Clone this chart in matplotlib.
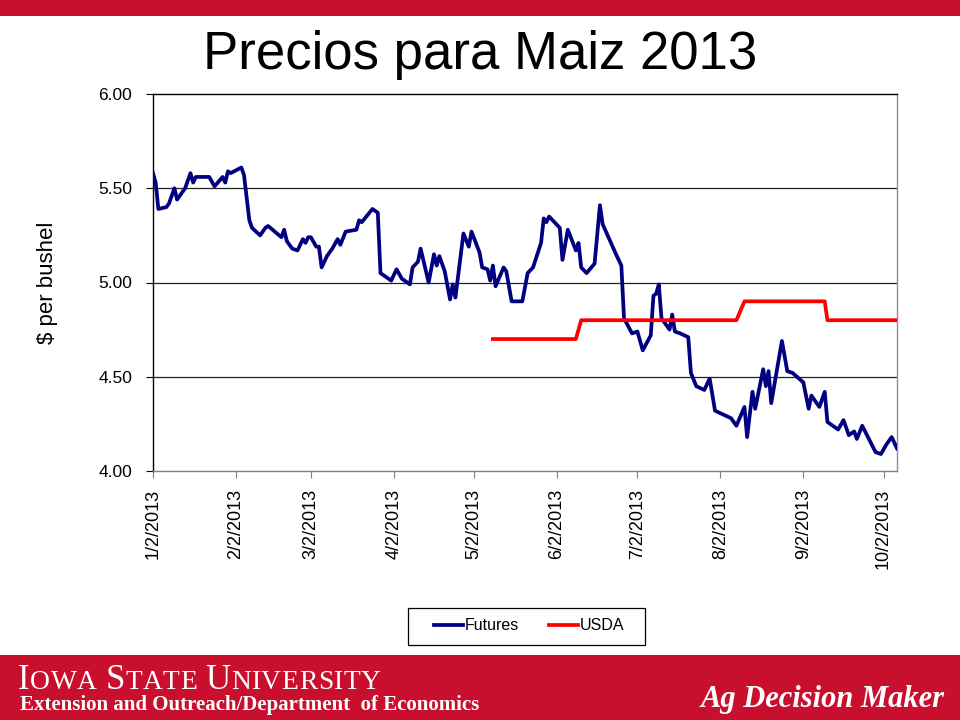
import matplotlib
matplotlib.use("Agg")
import matplotlib.pyplot as plt
from matplotlib.patches import Rectangle
import pandas as pd

plt.rcParams['font.family'] = ['Liberation Sans', 'DejaVu Sans']

title = "Precios para Maiz 2013"
y_label = "$ per bushel"

futures_dates = [
    "2013-01-02", "2013-01-03", "2013-01-04", "2013-01-07", "2013-01-08", "2013-01-10", "2013-01-11",
    "2013-01-14", "2013-01-16", "2013-01-17", "2013-01-18", "2013-01-23", "2013-01-25", "2013-01-28",
    "2013-01-29", "2013-01-30", "2013-01-31", "2013-02-04", "2013-02-05", "2013-02-07", "2013-02-08",
    "2013-02-11", "2013-02-13", "2013-02-14", "2013-02-19", "2013-02-20", "2013-02-21", "2013-02-23",
    "2013-02-25", "2013-02-27", "2013-02-28", "2013-03-01", "2013-03-02", "2013-03-04", "2013-03-05",
    "2013-03-06", "2013-03-08", "2013-03-10", "2013-03-12", "2013-03-13", "2013-03-15", "2013-03-19",
    "2013-03-20", "2013-03-21", "2013-03-25", "2013-03-27", "2013-03-28", "2013-04-01", "2013-04-03",
    "2013-04-05", "2013-04-08", "2013-04-09", "2013-04-11", "2013-04-12", "2013-04-13", "2013-04-15",
    "2013-04-17", "2013-04-18", "2013-04-19", "2013-04-21", "2013-04-23", "2013-04-24", "2013-04-25",
    "2013-04-28", "2013-04-30", "2013-05-01", "2013-05-04", "2013-05-05", "2013-05-07", "2013-05-08",
    "2013-05-09", "2013-05-10", "2013-05-13", "2013-05-14", "2013-05-16", "2013-05-20", "2013-05-22",
    "2013-05-24", "2013-05-27", "2013-05-28", "2013-05-29", "2013-05-30", "2013-06-03", "2013-06-04",
    "2013-06-06", "2013-06-09", "2013-06-10", "2013-06-11", "2013-06-13", "2013-06-16", "2013-06-18",
    "2013-06-19", "2013-06-24", "2013-06-26", "2013-06-27", "2013-06-30", "2013-07-02", "2013-07-04",
    "2013-07-07", "2013-07-08", "2013-07-09", "2013-07-10", "2013-07-11", "2013-07-14", "2013-07-15",
    "2013-07-16", "2013-07-18", "2013-07-21", "2013-07-22", "2013-07-24", "2013-07-27", "2013-07-29",
    "2013-07-31", "2013-08-06", "2013-08-08", "2013-08-11", "2013-08-12", "2013-08-14", "2013-08-15",
    "2013-08-18", "2013-08-19", "2013-08-20", "2013-08-21", "2013-08-25", "2013-08-27", "2013-08-29",
    "2013-09-02", "2013-09-04", "2013-09-05", "2013-09-08", "2013-09-10", "2013-09-11", "2013-09-15",
    "2013-09-17", "2013-09-19", "2013-09-21", "2013-09-22", "2013-09-24", "2013-09-29", "2013-10-01",
    "2013-10-03", "2013-10-05", "2013-10-07",
]
futures_values = [
    5.58, 5.53, 5.39, 5.40, 5.42, 5.50, 5.44,
    5.50, 5.58, 5.53, 5.56, 5.56, 5.51, 5.56,
    5.53, 5.59, 5.58, 5.61, 5.57, 5.33, 5.29,
    5.25, 5.29, 5.30, 5.24, 5.28, 5.22, 5.18,
    5.17, 5.23, 5.21, 5.24, 5.24, 5.19, 5.19,
    5.08, 5.14, 5.18, 5.23, 5.20, 5.27, 5.28,
    5.33, 5.32, 5.39, 5.37, 5.05, 5.01, 5.07,
    5.02, 4.99, 5.08, 5.11, 5.18, 5.12, 5.00,
    5.15, 5.09, 5.14, 5.06, 4.91, 4.99, 4.92,
    5.26, 5.19, 5.27, 5.16, 5.08, 5.07, 5.01,
    5.09, 4.98, 5.08, 5.06, 4.90, 4.90, 5.05,
    5.08, 5.21, 5.34, 5.32, 5.35, 5.29, 5.12,
    5.28, 5.17, 5.21, 5.08, 5.05, 5.10, 5.41,
    5.31, 5.15, 5.09, 4.81, 4.73, 4.74, 4.64,
    4.72, 4.93, 4.94, 4.99, 4.81, 4.75, 4.83,
    4.74, 4.73, 4.71, 4.52, 4.45, 4.43, 4.49,
    4.32, 4.28, 4.24, 4.34, 4.18, 4.42, 4.33,
    4.54, 4.45, 4.53, 4.36, 4.69, 4.53, 4.52,
    4.47, 4.33, 4.40, 4.34, 4.42, 4.26, 4.22,
    4.27, 4.19, 4.21, 4.17, 4.24, 4.10, 4.09,
    4.14, 4.18, 4.12,
]

usda_dates = ["2013-05-09", "2013-06-09", "2013-06-11", "2013-08-08", "2013-08-11",
              "2013-09-10", "2013-09-11", "2013-10-07"]
usda_values = [4.70, 4.70, 4.80, 4.80, 4.90, 4.90, 4.80, 4.80]

tick_dates = ["2013-01-02", "2013-02-02", "2013-03-02", "2013-04-02", "2013-05-02",
              "2013-06-02", "2013-07-02", "2013-08-02", "2013-09-02", "2013-10-02"]
tick_labels = ["1/2/2013", "2/2/2013", "3/2/2013", "4/2/2013", "5/2/2013",
               "6/2/2013", "7/2/2013", "8/2/2013", "9/2/2013", "10/2/2013"]
y_ticks = [4.00, 4.50, 5.00, 5.50, 6.00]
series_names = ["Futures", "USDA"]

fd = pd.to_datetime(futures_dates)
ud = pd.to_datetime(usda_dates)
td = pd.to_datetime(tick_dates)

W, H = 960, 720
fig = plt.figure(figsize=(9.6, 7.2), dpi=100)
fig.patch.set_facecolor('white')

red = '#C8102E'
fig.patches.append(Rectangle((0, 1 - 16 / H), 1, 16 / H, transform=fig.transFigure,
                             facecolor=red, edgecolor='none', zorder=0))
fig.patches.append(Rectangle((0, 0), 1, 65 / H, transform=fig.transFigure,
                             facecolor=red, edgecolor='none', zorder=0))

fig.text(0.5, 1 - 55 / H, title, ha='center', va='center', fontsize=38, color='black')

ax = fig.add_axes([153 / W, 1 - 471 / H, 744 / W, 377 / H])
l1, = ax.plot(fd, futures_values, color='#000080', lw=2.7, solid_joinstyle='round', zorder=3)
l2, = ax.plot(ud, usda_values, color='#FF0000', lw=2.7, zorder=3)

ax.set_ylim(4.0, 6.0)
ax.set_xlim(pd.Timestamp("2013-01-02"), pd.Timestamp("2013-10-07"))
ax.set_yticks(y_ticks)
ax.set_yticklabels([f"{v:.2f}" for v in y_ticks], fontsize=12.5)
ax.set_xticks(td)
ax.set_xticklabels(tick_labels, rotation=90, fontsize=13)
ax.tick_params(axis='y', direction='out', length=5, pad=10, color='black')
ax.tick_params(axis='x', direction='out', length=5, pad=8, color='#808080')

for v in [4.5, 5.0, 5.5]:
    ax.axhline(v, color='#222222', lw=0.9, zorder=1)

ax.spines['left'].set_color('black')
ax.spines['top'].set_color('black')
ax.spines['right'].set_color('#909090')
ax.spines['bottom'].set_color('#808080')
for s in ax.spines.values():
    s.set_linewidth(1.0)

ax.set_ylabel(y_label, fontsize=16)
ax.yaxis.set_label_coords(-0.128, 0.5)

# legend: frame drawn separately to match the reference's wide padding
fig.patches.append(Rectangle((408 / W, 1 - 645 / H), 237 / W, 37 / H, transform=fig.transFigure,
                             facecolor='white', edgecolor='black', lw=0.9, zorder=1))
leg = fig.legend(handles=[l1, l2], labels=series_names, loc='center',
                 bbox_to_anchor=(529 / W, 1 - 626 / H), ncol=2, frameon=False,
                 fontsize=11.5, handlelength=1.8, handletextpad=0.12, columnspacing=1.9)

fig.canvas.draw()
renderer = fig.canvas.get_renderer()

# IOWA STATE UNIVERSITY in small caps
x = 18
base_y = 1 - 689 / H
for word in ["IOWA", "STATE", "UNIVERSITY"]:
    for i, ch in enumerate(word):
        size = 25 if i == 0 else 19.8
        t = fig.text(x / W, base_y, ch, ha='left', va='baseline', fontsize=size,
                     color='white', family='Liberation Serif')
        bb = t.get_window_extent(renderer)
        x += bb.width * 1.0 + 0.5
    x += 8

fig.text(20 / W, 1 - 705 / H, "Extension and Outreach/Department  of Economics", ha='left',
         va='center', fontsize=15, color='white', family='Liberation Serif', fontweight='bold')
fig.text(945 / W, 1 - 700 / H, "Ag Decision Maker", ha='right', va='center',
         fontsize=22, color='white', family='Liberation Serif', fontweight='bold', style='italic')

fig.savefig('out.png', dpi=100)
